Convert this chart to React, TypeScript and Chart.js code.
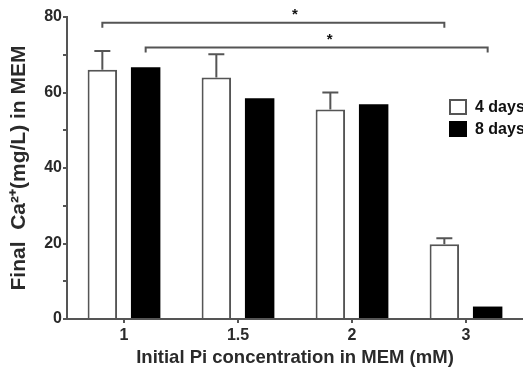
import React, { useEffect, useRef } from "react";
import { Chart, registerables } from "chart.js";

Chart.register(...registerables);

const categories = ["1", "1.5", "2", "3"];
const days4 = [66, 64, 55.5, 19.8];
const days4ErrUp = [5, 6.1, 4.5, 1.6];
const days8 = [66.7, 58.5, 56.9, 3.3];
const seriesLabels = ["4 days", "8 days"];
const yTicksMajor = [0, 20, 40, 60, 80];
// significance brackets: [datasetIndex, fromCategory, toCategory, yValue, starFraction]
const bracketDataset = [0, 1];
const bracketFrom = [0, 0];
const bracketTo = [3, 3];
const bracketLevel = [78.5, 71.9];
const bracketStarFrac = [0.563, 0.538];

const FONT = "'Liberation Sans', Arial, sans-serif";
const AXIS = "#555";
const TXT = "#2a2a2a";

export default function App() {
  const ref = useRef<HTMLCanvasElement | null>(null);
  useEffect(() => {
    if (!ref.current) return;
    const overlay = {
      id: "overlay",
      afterDatasetsDraw(chart: any) {
        const ctx = chart.ctx;
        const y = chart.scales.y;
        ctx.save();
        // error bars (upward) for 4 days
        const m0 = chart.getDatasetMeta(0);
        ctx.strokeStyle = AXIS;
        ctx.lineWidth = 2;
        m0.data.forEach((bar: any, i: number) => {
          const top = y.getPixelForValue(days4[i] + days4ErrUp[i]);
          const base = y.getPixelForValue(days4[i]);
          ctx.beginPath();
          ctx.moveTo(bar.x, base);
          ctx.lineTo(bar.x, top);
          ctx.moveTo(bar.x - 8, top);
          ctx.lineTo(bar.x + 8, top);
          ctx.stroke();
        });
        // brackets
        bracketLevel.forEach((lv, k) => {
          const meta = chart.getDatasetMeta(bracketDataset[k]);
          const x1 = meta.data[bracketFrom[k]].x;
          const x2 = meta.data[bracketTo[k]].x;
          const py = y.getPixelForValue(lv);
          ctx.strokeStyle = AXIS;
          ctx.lineWidth = 2;
          ctx.beginPath();
          ctx.moveTo(x1, py + 5);
          ctx.lineTo(x1, py);
          ctx.lineTo(x2, py);
          ctx.lineTo(x2, py + 5);
          ctx.stroke();
          ctx.fillStyle = "#111";
          ctx.font = `bold 15px ${FONT}`;
          ctx.textAlign = "center";
          ctx.textBaseline = "middle";
          ctx.fillText("*", x1 + (x2 - x1) * bracketStarFrac[k], py - 8);
        });
        // legend
        const lx = chart.chartArea.right - 73;
        const ly = chart.chartArea.top + 83;
        ctx.font = `bold 16px ${FONT}`;
        ctx.textAlign = "left";
        ctx.textBaseline = "middle";
        seriesLabels.forEach((lab, i) => {
          const by = ly + i * 22;
          if (i === 0) {
            ctx.fillStyle = "#fff";
            ctx.fillRect(lx, by, 16, 14);
            ctx.strokeStyle = AXIS;
            ctx.lineWidth = 2;
            ctx.strokeRect(lx, by, 16, 14);
          } else {
            ctx.fillStyle = "#000";
            ctx.fillRect(lx - 1, by - 1, 18, 16);
          }
          ctx.fillStyle = "#111";
          ctx.fillText(lab, lx + 25, by + 7.5);
        });
        ctx.restore();
      },
    };
    const chart = new Chart(ref.current, {
      type: "bar",
      data: {
        labels: categories,
        datasets: [
          {
            label: seriesLabels[0],
            data: days4,
            backgroundColor: "#fff",
            borderColor: AXIS,
            borderWidth: 2,
          },
          {
            label: seriesLabels[1],
            data: days8,
            backgroundColor: "#000",
            borderColor: "#000",
            borderWidth: 0,
          },
        ],
      },
      options: {
        animation: false,
        responsive: false,
        devicePixelRatio: 1,
        layout: { padding: { left: 0, right: 0, top: 17, bottom: 0 } },
        categoryPercentage: 0.76,
        barPercentage: 0.68,
        plugins: { legend: { display: false }, tooltip: { enabled: false } },
        scales: {
          x: {
            grid: { display: true, drawOnChartArea: false, offset: false, tickLength: 4, color: AXIS, lineWidth: 2 },
            border: { color: AXIS, width: 2 },
            ticks: { color: TXT, font: { family: FONT, size: 16, weight: "bold" }, padding: 3 },
            title: {
              display: true,
              text: "Initial Pi concentration in MEM (mM)",
              color: TXT,
              font: { family: FONT, size: 18.5, weight: "bold" },
              padding: { top: 0, bottom: 0 },
            },
            afterFit: (s: any) => {
              s.height = 50;
            },
          },
          y: {
            min: 0,
            max: 80,
            grid: { display: true, drawOnChartArea: false, tickLength: 4, color: AXIS, lineWidth: 2 },
            border: { color: AXIS, width: 2 },
            ticks: {
              stepSize: 10,
              padding: 1,
              color: TXT,
              font: { family: FONT, size: 16, weight: "bold" },
              callback: (v: any) => (yTicksMajor.includes(Number(v)) ? String(v) : ""),
            },
            title: {
              display: true,
              text: "Final  Ca²⁺(mg/L) in MEM",
              color: TXT,
              font: { family: FONT, size: 21, weight: "bold" },
              padding: { top: 7, bottom: 0 },
            },
            afterFit: (s: any) => {
              s.width = 67;
            },
          },
        },
      },
      plugins: [overlay],
    } as any);
    return () => chart.destroy();
  }, []);
  return (
    <div style={{ position: "absolute", left: 0, top: 0, width: 523, height: 369, background: "#fff" }}>
      <canvas ref={ref} width={523} height={369} style={{ display: "block" }} />
    </div>
  );
}
